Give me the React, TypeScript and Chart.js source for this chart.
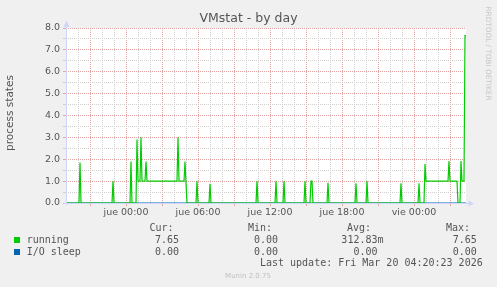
import { useEffect, useRef } from 'react';
import { Chart, registerables } from 'chart.js';

Chart.register(...registerables);

// ---------- data ----------
const chartTitle = 'VMstat - by day';
const yAxisTitle = 'process states';
const seriesNames = ['running', 'I/O sleep'];
const seriesColors = ['#00cc00', '#0066b3'];

// time in minutes relative to "jue 00:00"
const xMin = -300;
const xMax = 1700;
const dayNames = ['jue', 'vie'];

const runningMinutes = [
  -300, -235, -230, -225, -70, -65, -60, 20, 25, 30, 50, 55, 60, 70, 75, 80, 95, 100, 105,
  255, 260, 265, 290, 295, 300, 305, 350, 355, 360, 415, 420, 425, 650, 655, 660,
  745, 750, 755, 785, 790, 795, 890, 895, 900, 920, 925, 930, 935, 1005, 1010, 1015,
  1145, 1150, 1155, 1200, 1205, 1210, 1370, 1375, 1380, 1460, 1465, 1470,
  1490, 1495, 1500, 1610, 1615, 1620, 1655, 1660, 1670, 1675, 1680, 1690, 1695, 1700,
];
const runningValues = [
  0, 0, 1.85, 0, 0, 1.0, 0, 0, 1.9, 0, 0, 2.9, 1.0, 1.0, 3.0, 1.0, 1.0, 1.9, 1.0,
  1.0, 3.0, 1.0, 1.0, 1.9, 0.9, 0, 0, 1.0, 0, 0, 0.88, 0, 0, 1.0, 0,
  0, 1.0, 0, 0, 1.0, 0, 0, 1.0, 0, 0, 1.0, 1.0, 0, 0, 0.93, 0,
  0, 0.9, 0, 0, 1.0, 0, 0, 0.9, 0, 0, 0.9, 0,
  0, 1.78, 1.0, 1.0, 1.92, 1.0, 1.0, 0, 0, 1.92, 1.0, 1.0, 7.65, 7.65,
];

const ioSleepMinutes = [-300, 1700];
const ioSleepValues = [0, 0];

const yMin = 0;
const yMax = 8;

const legendHeaders = ['Cur:', 'Min:', 'Avg:', 'Max:'];
const runningStats = ['7.65', '0.00', '312.83m', '7.65'];
const ioSleepStats = ['0.00', '0.00', '0.00', '0.00'];
const lastUpdate = 'Last update: Fri Mar 20 04:20:23 2026';
const footerText = 'Munin 2.0.75';
const watermark = 'RRDTOOL / TOBI OETIKER';

// ---------- styles ----------
const MAJOR = '#e4a4a4';
const MINOR = '#cfcfcf';
const AXIS = '#cfd6f8';
const FONT_COLOR = '#555555';
const SANS = '"DejaVu Sans", sans-serif';
const MONO = '"DejaVu Sans Mono", monospace';

function fmtTime(v: number): string {
  const dayIdx = Math.floor(v / 1440);
  const m = ((v % 1440) + 1440) % 1440;
  const hh = String(Math.floor(m / 60)).padStart(2, '0');
  const mm = String(m % 60).padStart(2, '0');
  return `${dayNames[dayIdx] ?? ''} ${hh}:${mm}`;
}

const muninPlugin = {
  id: 'muninDecor',
  beforeDraw(chart: any) {
    const { ctx, chartArea: a } = chart;
    ctx.save();
    ctx.fillStyle = '#f0f0f0';
    ctx.fillRect(0, 0, chart.width, chart.height);
    ctx.fillStyle = '#ffffff';
    ctx.fillRect(a.left, a.top, a.right - a.left, a.bottom - a.top);
    ctx.restore();
  },
  afterDraw(chart: any) {
    const { ctx, chartArea: a } = chart;
    ctx.save();
    // axes
    ctx.strokeStyle = AXIS;
    ctx.fillStyle = AXIS;
    ctx.lineWidth = 1;
    ctx.beginPath();
    ctx.moveTo(a.left + 0.5, a.bottom + 2);
    ctx.lineTo(a.left + 0.5, a.top - 4);
    ctx.stroke();
    ctx.beginPath();
    ctx.moveTo(a.left - 2, a.bottom + 0.5);
    ctx.lineTo(a.right + 3, a.bottom + 0.5);
    ctx.stroke();
    // arrows
    ctx.beginPath();
    ctx.moveTo(a.left + 0.5, a.top - 7.5);
    ctx.lineTo(a.left + 3.5, a.top - 1);
    ctx.lineTo(a.left - 2.5, a.top - 1);
    ctx.closePath();
    ctx.fill();
    ctx.beginPath();
    ctx.moveTo(a.right + 8, a.bottom + 0.5);
    ctx.lineTo(a.right + 2.5, a.bottom + 3.5);
    ctx.lineTo(a.right + 2.5, a.bottom - 2.5);
    ctx.closePath();
    ctx.fill();

    // title
    ctx.fillStyle = FONT_COLOR;
    ctx.textBaseline = 'middle';
    ctx.textAlign = 'center';
    ctx.font = `12.5px ${SANS}`;
    ctx.fillText(chartTitle, 248.5, 19);

    // y axis title
    ctx.save();
    ctx.translate(10.5, 113);
    ctx.rotate(-Math.PI / 2);
    ctx.font = `10.5px ${SANS}`;
    ctx.fillText(yAxisTitle, 0, 0);
    ctx.restore();

    // watermark
    ctx.save();
    ctx.translate(487.5, 53.5);
    ctx.rotate(Math.PI / 2);
    ctx.fillStyle = '#c8c8c8';
    ctx.font = `7.3px ${SANS}`;
    ctx.fillText(watermark, 0, 0);
    ctx.restore();

    // legend
    ctx.font = `10px ${MONO}`;
    ctx.textAlign = 'right';
    const headerRight = [173.5, 272, 371, 470];
    legendHeaders.forEach((h, i) => ctx.fillText(h, headerRight[i], 228));
    const valueRight = [179, 278, 383.5, 476.8];
    const rows = [runningStats, ioSleepStats];
    rows.forEach((row, r) => {
      const y = 240 + r * 12;
      ctx.fillStyle = seriesColors[r];
      ctx.fillRect(14, y - 3, 6, 6);
      ctx.fillStyle = FONT_COLOR;
      ctx.textAlign = 'left';
      ctx.fillText(seriesNames[r], 26.7, y);
      ctx.textAlign = 'right';
      row.forEach((v, i) => {
        const pad = i === 2 && !v.endsWith('m') ? 6 : 0;
        ctx.fillText(v, valueRight[i] - pad, y);
      });
    });
    ctx.fillText(lastUpdate, 482.7, 263.6);

    // footer
    ctx.textAlign = 'center';
    ctx.fillStyle = '#c0c0c0';
    ctx.font = `7px ${SANS}`;
    ctx.fillText(footerText, 248, 276.5);
    ctx.restore();
  },
};

export default function App() {
  const canvasRef = useRef<HTMLCanvasElement | null>(null);

  useEffect(() => {
    const canvas = canvasRef.current;
    if (!canvas) return;
    const running = runningMinutes.map((x, i) => ({ x, y: runningValues[i] }));
    const ioSleep = ioSleepMinutes.map((x, i) => ({ x, y: ioSleepValues[i] }));

    const chart = new Chart(canvas, {
      type: 'line',
      data: {
        datasets: [
          {
            label: seriesNames[1],
            data: ioSleep,
            borderColor: seriesColors[1],
            borderWidth: 1,
            pointRadius: 0,
            tension: 0,
            order: 2,
          },
          {
            label: seriesNames[0],
            data: running,
            borderColor: seriesColors[0],
            borderWidth: 1.2,
            pointRadius: 0,
            tension: 0,
            order: 1,
          },
        ],
      },
      options: {
        responsive: false,
        animation: false,
        devicePixelRatio: 1,
        layout: { padding: { left: 0, right: 31, top: 28, bottom: 0 } },
        plugins: {
          legend: { display: false },
          title: { display: false },
          tooltip: { enabled: false },
        },
        scales: {
          x: {
            type: 'linear',
            min: xMin,
            max: xMax,
            afterFit: (scale: any) => {
              scale.height = 84;
            },
            border: { display: false, dash: [1, 1] },
            grid: {
              color: (ctx: any) => {
                const v = ctx.tick?.value;
                if (v === undefined) return 'transparent';
                if (v % 180 === 0) return MAJOR;
                if (v % 60 === 0) return MINOR;
                return 'transparent';
              },
              tickColor: (ctx: any) => {
                const v = ctx.tick?.value;
                return v !== undefined && v % 180 === 0 ? MAJOR : 'transparent';
              },
              tickLength: 3,
              lineWidth: 1,
            },
            ticks: {
              stepSize: 60,
              autoSkip: false,
              maxRotation: 0,
              minRotation: 0,
              padding: 1,
              color: FONT_COLOR,
              font: { family: SANS, size: 9.5 },
              callback: (value: any) => {
                const v = Number(value);
                return v % 360 === 0 ? fmtTime(v) : '';
              },
            },
          },
          y: {
            min: yMin,
            max: yMax,
            afterFit: (scale: any) => {
              scale.width = 66;
            },
            border: { display: false, dash: [1, 1] },
            grid: {
              color: (ctx: any) => {
                const v = ctx.tick?.value;
                if (v === undefined) return 'transparent';
                return Number.isInteger(v) ? MAJOR : MINOR;
              },
              tickColor: (ctx: any) => {
                const v = ctx.tick?.value;
                if (v === undefined) return 'transparent';
                return Number.isInteger(v) ? MAJOR : MINOR;
              },
              tickLength: 3,
              lineWidth: 1,
            },
            ticks: {
              stepSize: 0.5,
              autoSkip: false,
              padding: 3,
              color: FONT_COLOR,
              font: { family: SANS, size: 9.5 },
              callback: (value: any) => {
                const v = Number(value);
                return Number.isInteger(v) ? v.toFixed(1) : '';
              },
            },
          },
        },
      },
      plugins: [muninPlugin],
    });

    return () => chart.destroy();
  }, []);

  return (
    <div style={{ position: 'fixed', left: 0, top: 0, width: 497, height: 287 }}>
      <canvas
        ref={canvasRef}
        width={497}
        height={287}
        style={{ display: 'block', width: 497, height: 287 }}
      />
    </div>
  );
}
